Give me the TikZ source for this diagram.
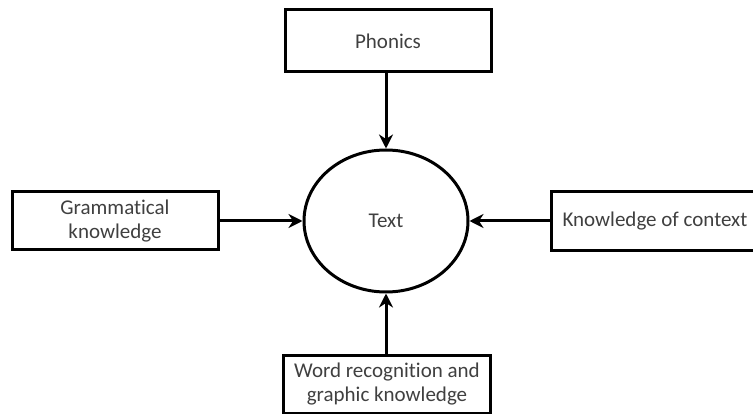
\documentclass[tikz,border=0pt]{standalone}
\usepackage{fontspec}
\setmainfont{Carlito}[Ligatures=NoCommon]
\usetikzlibrary{arrows.meta,shapes.geometric}
\begin{document}
\begin{tikzpicture}[x=1pt,y=-1pt,
  box/.style={draw=black, line width=3pt, rectangle, inner sep=0pt, align=center,
    text=black!75, font=\fontsize{21}{24}\selectfont},
  conn/.style={line width=3pt, -{Stealth[length=14pt,width=14pt,inset=4.5pt]}}]
\useasboundingbox (0,0) rectangle (753,414);
\clip (0,0) rectangle (753,414);
\fill[white] (0,0) rectangle (753,414);
\node[box, minimum width=206pt, minimum height=62pt] (ph) at (388,41) {Phonics};
\node[box, minimum width=206pt, minimum height=58pt] (gr) at (115,221) {Grammatical\\knowledge};
\node[box, draw=none, minimum width=204pt, minimum height=56pt] (kn) at (655,221) {Knowledge of context};
\draw[line width=3pt] (kn.north east) -- (kn.north west) -- (kn.south west) -- (kn.south east);
\node[box, minimum width=207pt, minimum height=58pt] (wr) at (387,384) {Word recognition and\\graphic knowledge};
\node[draw=black, line width=3pt, ellipse, minimum width=164pt, minimum height=142pt, inner sep=0pt,
  text=black!75, font=\fontsize{21}{24}\selectfont] (tx) at (386,221) {Text};
\draw[conn] (ph.south -| tx.north) -- (tx.north);
\draw[conn] (gr.east) -- (tx.west);
\draw[conn] (kn.west) -- (tx.east);
\draw[conn] (wr.north -| tx.south) -- (tx.south);
\end{tikzpicture}
\end{document}
